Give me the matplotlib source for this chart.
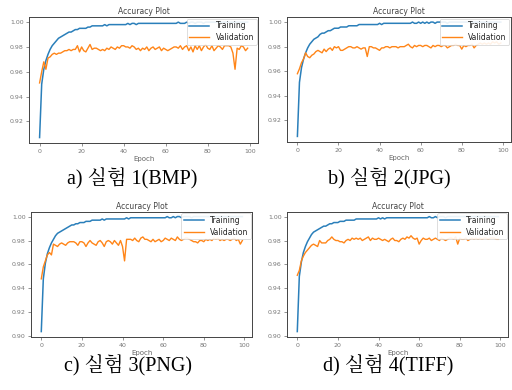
import matplotlib
matplotlib.use("Agg")
import matplotlib.pyplot as plt

epochs = list(range(100))

# experiment 1 (BMP)
train_1 = [0.907, 0.950, 0.962, 0.969, 0.974, 0.978, 0.981, 0.983, 0.985, 0.987,
           0.988, 0.989, 0.990, 0.991, 0.992, 0.992, 0.993, 0.994, 0.994, 0.995,
           0.995, 0.995, 0.995, 0.996, 0.996, 0.997, 0.997, 0.997, 0.997, 0.997,
           0.997, 0.998, 0.997, 0.998, 0.998, 0.998, 0.998, 0.998, 0.998, 0.998,
           0.998, 0.998, 0.999, 0.998, 0.999, 0.999, 0.998, 0.999, 0.999, 0.999,
           0.999, 0.999, 0.999, 0.999, 0.999, 0.999, 0.999, 0.999, 0.999, 0.999,
           0.999, 0.999, 0.999, 0.999, 0.999, 0.999, 1.000, 0.999, 0.999, 0.999,
           1.000, 0.999, 1.000, 1.000, 0.999, 1.000, 1.000, 1.000, 0.999, 1.000,
           1.000, 1.000, 1.000, 1.000, 1.000, 1.000, 1.000, 1.000, 1.000, 1.000,
           1.000, 1.000, 1.000, 1.000, 1.000, 1.000, 1.000, 1.000, 1.000, 1.000]
val_1 = [0.951, 0.960, 0.968, 0.962, 0.971, 0.972, 0.974, 0.975, 0.974, 0.975,
         0.975, 0.976, 0.977, 0.977, 0.978, 0.977, 0.978, 0.978, 0.981, 0.976,
         0.980, 0.977, 0.976, 0.979, 0.982, 0.978, 0.979, 0.979, 0.978, 0.977,
         0.978, 0.977, 0.979, 0.978, 0.980, 0.979, 0.978, 0.980, 0.979, 0.981,
         0.981, 0.980, 0.980, 0.979, 0.981, 0.980, 0.978, 0.979, 0.977, 0.979,
         0.978, 0.980, 0.977, 0.979, 0.980, 0.978, 0.979, 0.980, 0.977, 0.979,
         0.978, 0.977, 0.978, 0.979, 0.980, 0.980, 0.979, 0.981, 0.978, 0.980,
         0.981, 0.977, 0.980, 0.976, 0.981, 0.978, 0.981, 0.977, 0.980, 0.982,
         0.979, 0.978, 0.981, 0.977, 0.979, 0.981, 0.980, 0.978, 0.981, 0.981,
         0.981, 0.980, 0.975, 0.962, 0.979, 0.978, 0.981, 0.980, 0.977, 0.979]

# experiment 2 (JPG)
train_2 = [0.907, 0.951, 0.963, 0.970, 0.975, 0.979, 0.982, 0.984, 0.986, 0.987,
           0.988, 0.990, 0.991, 0.991, 0.992, 0.993, 0.993, 0.994, 0.995, 0.995,
           0.995, 0.996, 0.996, 0.996, 0.996, 0.997, 0.997, 0.997, 0.997, 0.997,
           0.998, 0.998, 0.998, 0.998, 0.998, 0.998, 0.998, 0.998, 0.998, 0.998,
           0.999, 0.998, 0.999, 0.999, 0.999, 0.999, 0.999, 0.999, 0.999, 0.999,
           0.999, 0.999, 0.999, 0.999, 0.999, 0.999, 1.000, 0.999, 0.999, 1.000,
           0.999, 1.000, 0.999, 1.000, 0.999, 1.000, 1.000, 0.999, 1.000, 1.000,
           1.000, 1.000, 1.000, 0.999, 1.000, 1.000, 1.000, 1.000, 1.000, 1.000,
           1.000, 1.000, 1.000, 1.000, 1.000, 1.000, 1.000, 1.000, 1.000, 1.000,
           1.000, 1.000, 1.000, 1.000, 1.000, 1.000, 1.000, 1.000, 1.000, 1.000]
val_2 = [0.958, 0.962, 0.967, 0.970, 0.975, 0.972, 0.971, 0.973, 0.974, 0.976,
         0.977, 0.976, 0.975, 0.978, 0.976, 0.978, 0.979, 0.977, 0.980, 0.979,
         0.980, 0.977, 0.977, 0.978, 0.979, 0.980, 0.980, 0.979, 0.979, 0.980,
         0.979, 0.978, 0.979, 0.979, 0.972, 0.980, 0.980, 0.979, 0.979, 0.978,
         0.977, 0.979, 0.979, 0.980, 0.980, 0.979, 0.980, 0.980, 0.980, 0.979,
         0.980, 0.980, 0.980, 0.981, 0.982, 0.980, 0.979, 0.981, 0.980, 0.981,
         0.981, 0.980, 0.981, 0.981, 0.980, 0.979, 0.981, 0.980, 0.981, 0.981,
         0.980, 0.981, 0.981, 0.979, 0.980, 0.981, 0.981, 0.982, 0.981, 0.981,
         0.978, 0.981, 0.980, 0.981, 0.981, 0.982, 0.979, 0.981, 0.982, 0.983,
         0.982, 0.983, 0.982, 0.983, 0.982, 0.984, 0.983, 0.984, 0.982, 0.983]

# experiment 3 (PNG)
train_3 = [0.904, 0.948, 0.961, 0.969, 0.974, 0.978, 0.981, 0.984, 0.986, 0.987,
           0.988, 0.989, 0.990, 0.991, 0.992, 0.993, 0.993, 0.994, 0.994, 0.995,
           0.995, 0.995, 0.996, 0.996, 0.996, 0.997, 0.997, 0.997, 0.997, 0.997,
           0.998, 0.997, 0.998, 0.998, 0.998, 0.998, 0.998, 0.998, 0.998, 0.998,
           0.998, 0.998, 0.999, 0.998, 0.999, 0.999, 0.999, 0.999, 0.999, 0.999,
           0.999, 0.999, 0.999, 0.999, 0.999, 0.999, 0.999, 0.999, 0.999, 0.999,
           0.999, 0.999, 1.000, 0.999, 0.999, 1.000, 0.999, 1.000, 1.000, 0.999,
           1.000, 1.000, 1.000, 1.000, 0.999, 1.000, 1.000, 1.000, 1.000, 1.000,
           1.000, 1.000, 1.000, 1.000, 1.000, 1.000, 1.000, 1.000, 1.000, 1.000,
           1.000, 1.000, 1.000, 1.000, 1.000, 1.000, 1.000, 1.000, 1.000, 1.000]
val_3 = [0.948, 0.958, 0.963, 0.968, 0.970, 0.968, 0.977, 0.976, 0.975, 0.977,
         0.978, 0.977, 0.976, 0.978, 0.979, 0.979, 0.979, 0.978, 0.976, 0.979,
         0.979, 0.978, 0.975, 0.978, 0.980, 0.978, 0.977, 0.976, 0.979, 0.980,
         0.978, 0.975, 0.979, 0.980, 0.979, 0.977, 0.980, 0.978, 0.976, 0.980,
         0.975, 0.963, 0.981, 0.981, 0.981, 0.980, 0.982, 0.980, 0.979, 0.982,
         0.983, 0.981, 0.981, 0.980, 0.979, 0.981, 0.979, 0.980, 0.981, 0.979,
         0.980, 0.982, 0.981, 0.980, 0.982, 0.981, 0.980, 0.983, 0.981, 0.980,
         0.981, 0.982, 0.982, 0.981, 0.980, 0.979, 0.979, 0.978, 0.980, 0.980,
         0.979, 0.981, 0.980, 0.981, 0.980, 0.982, 0.981, 0.982, 0.980, 0.981,
         0.980, 0.981, 0.981, 0.980, 0.981, 0.982, 0.980, 0.981, 0.977, 0.980]

# experiment 4 (TIFF)
train_4 = [0.904, 0.950, 0.962, 0.970, 0.975, 0.979, 0.982, 0.985, 0.987, 0.988,
           0.989, 0.990, 0.991, 0.992, 0.992, 0.993, 0.994, 0.994, 0.995, 0.995,
           0.995, 0.996, 0.996, 0.996, 0.997, 0.997, 0.997, 0.997, 0.997, 0.998,
           0.998, 0.998, 0.998, 0.998, 0.998, 0.998, 0.998, 0.998, 0.998, 0.998,
           0.999, 0.998, 0.999, 0.998, 0.999, 0.999, 0.999, 0.999, 0.999, 0.999,
           0.999, 0.999, 0.999, 0.999, 0.999, 0.999, 0.999, 0.999, 0.999, 0.999,
           0.999, 0.999, 0.999, 0.999, 0.999, 1.000, 0.999, 0.999, 1.000, 0.999,
           1.000, 1.000, 1.000, 0.999, 1.000, 1.000, 1.000, 1.000, 1.000, 1.000,
           1.000, 1.000, 1.000, 1.000, 1.000, 1.000, 1.000, 1.000, 1.000, 1.000,
           1.000, 1.000, 1.000, 1.000, 1.000, 1.000, 1.000, 1.000, 1.000, 1.000]
val_4 = [0.951, 0.955, 0.963, 0.967, 0.970, 0.972, 0.974, 0.976, 0.977, 0.976,
         0.975, 0.980, 0.978, 0.978, 0.978, 0.980, 0.981, 0.983, 0.981, 0.980,
         0.980, 0.979, 0.979, 0.978, 0.980, 0.981, 0.980, 0.982, 0.981, 0.982,
         0.981, 0.982, 0.980, 0.981, 0.982, 0.983, 0.980, 0.982, 0.981, 0.981,
         0.982, 0.981, 0.980, 0.981, 0.980, 0.979, 0.981, 0.982, 0.980, 0.980,
         0.979, 0.981, 0.982, 0.981, 0.983, 0.982, 0.984, 0.982, 0.981, 0.982,
         0.977, 0.980, 0.982, 0.981, 0.981, 0.982, 0.980, 0.981, 0.982, 0.981,
         0.980, 0.982, 0.981, 0.980, 0.981, 0.982, 0.982, 0.981, 0.983, 0.977,
         0.982, 0.981, 0.981, 0.982, 0.980, 0.981, 0.982, 0.981, 0.982, 0.981,
         0.982, 0.981, 0.982, 0.982, 0.981, 0.982, 0.982, 0.982, 0.981, 0.981]

captions = ["a) 실험 1(BMP)", "b) 실험 2(JPG)", "c) 실험 3(PNG)", "d) 실험 4(TIFF)"]
yticks_top = [0.92, 0.94, 0.96, 0.98, 1.00]
yticks_bottom = [0.90, 0.92, 0.94, 0.96, 0.98, 1.00]

fig = plt.figure(figsize=(5.12, 3.9), dpi=100)

# [left, bottom, width, height] for each panel, plus caption position
boxes = [[0.057, 0.633, 0.447, 0.323],
         [0.561, 0.636, 0.437, 0.320],
         [0.061, 0.136, 0.432, 0.321],
         [0.561, 0.136, 0.432, 0.321]]
cap_pos = [(0.258, 0.545), (0.760, 0.545), (0.250, 0.064), (0.758, 0.064)]
trains = [train_1, train_2, train_3, train_4]
vals = [val_1, val_2, val_3, val_4]
ylims = [(0.9025, 1.004), (0.9025, 1.004), (0.8995, 1.004), (0.8995, 1.004)]
ytks = [yticks_top, yticks_top, yticks_bottom, yticks_bottom]

for i in range(4):
    ax = fig.add_axes(boxes[i])
    ax.plot(epochs, trains[i], color="#2a7fba", lw=1.1, label="Training")
    ax.plot(epochs, vals[i], color="#ff8518", lw=1.0, label="Validation")
    ax.set_ylim(*ylims[i])
    ax.set_yticks(ytks[i])
    ax.set_yticklabels(["%.2f" % t for t in ytks[i]])
    ax.set_xticks([0, 20, 40, 60, 80, 100])
    ax.set_title("Accuracy Plot", fontsize=5.5, color="#444", pad=2)
    ax.set_xlabel("Epoch", fontsize=5, color="#666", labelpad=1.5)
    ax.tick_params(labelsize=4.5, labelcolor="#777", length=2, width=0.5,
                   color="#666", pad=2)
    for s in ax.spines.values():
        s.set_color("#444")
        s.set_linewidth(0.7)
    leg = ax.legend(loc="upper right", fontsize=5.5, frameon=True,
                    borderpad=0.35, handlelength=2.6, labelspacing=0.35,
                    borderaxespad=0.2, fancybox=True, framealpha=0.9)
    leg.get_frame().set_linewidth(0.5)
    for t in leg.get_texts():
        t.set_color("#222")
    fig.text(cap_pos[i][0], cap_pos[i][1], captions[i], ha="center", va="center",
             fontsize=14.5, family=["Liberation Serif", "Noto Serif CJK KR",
                                    "Noto Sans CJK KR"])

fig.savefig("out.png", dpi=100)
